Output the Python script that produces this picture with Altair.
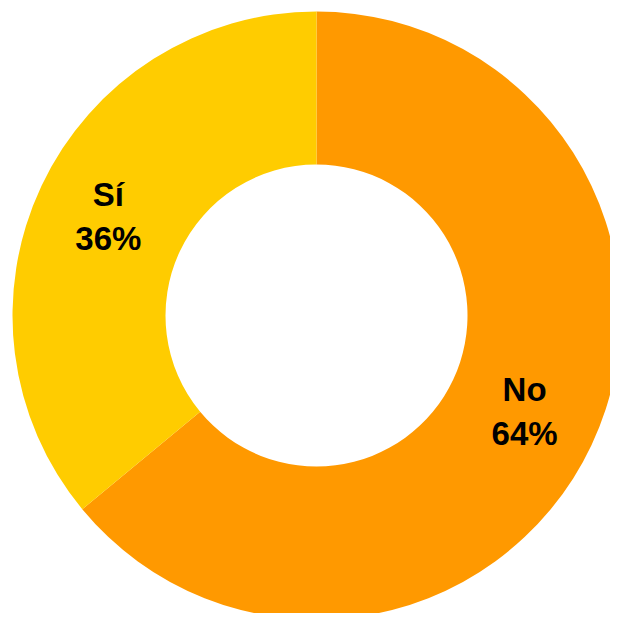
import altair as alt
import pandas as pd

categories = ["No", "Sí"]
values = [64, 36]
labels = ["No\n64%", "Sí\n36%"]
colors = ["#FF9900", "#FFCC00"]

df = pd.DataFrame({"cat": categories, "val": values, "label": labels, "ord": [0, 1]})

base = alt.Chart(df).encode(
    theta=alt.Theta("val:Q", stack=True),
    order=alt.Order("ord:Q"),
    x=alt.value(308.5),
    y=alt.value(307.5),
)

arc = base.mark_arc(outerRadius=304, innerRadius=151, stroke=None).encode(
    color=alt.Color("cat:N", scale=alt.Scale(domain=categories, range=colors), legend=None)
)

text = base.mark_text(
    radius=230, font="Liberation Sans", fontWeight="bold", fontSize=33,
    lineBreak="\n", lineHeight=44, dy=-22, color="black", align="center", baseline="middle"
).encode(text="label:N")

chart = (arc + text).properties(
    width=602, height=605, padding=0, autosize="none", background="white"
).configure_view(stroke=None, clip=False)

chart.save("out.html", embed_options={"renderer": "svg", "actions": False})
